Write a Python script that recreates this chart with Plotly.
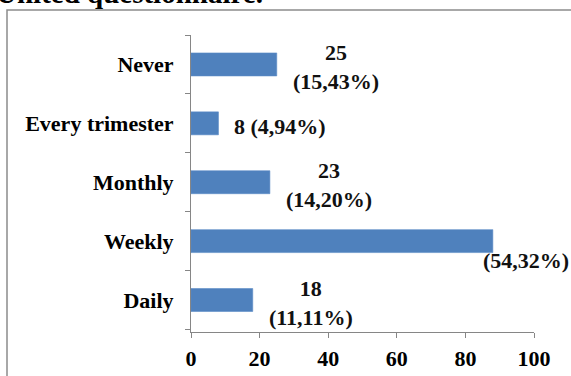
import plotly.graph_objects as go

# Frequency categories (bottom to top) and respondent counts
categories = ["Daily", "Weekly", "Monthly", "Every trimester", "Never"]
counts = [18, 88, 23, 8, 25]
label_lines = [["18", "(11,11%)"], ["(54,32%)"], ["23", "(14,20%)"],
               ["8 (4,94%)"], ["25", "(15,43%)"]]
x_ticks = [0, 20, 40, 60, 80, 100]

W, H = 571, 376
L, R, T, B = 191, 37, 35, 44
pw, ph = W - L - R, H - T - B

def px_x(p):
    return (p - L) / pw

def px_y(p):
    return 1 - (p - T) / ph

serif = "Liberation Serif"
axis_grey = "#868686"

fig = go.Figure(go.Bar(
    y=categories, x=counts, orientation="h",
    marker=dict(color="#4F81BD", line=dict(color="#5B8BC6", width=0.6)),
    hoverinfo="skip",
))

annotations = []
for cat, val, lines in zip(categories, counts, label_lines):
    if cat == "Weekly":
        # percentage sits just below the end of the long bar
        annotations.append(dict(x=val, y=cat, xref="x", yref="y", text="<b>" + lines[0] + "</b>",
                                xanchor="left", yanchor="middle", xshift=-12, yshift=-19,
                                showarrow=False, font=dict(family=serif, size=22, color="#111")))
    else:
        annotations.append(dict(x=val, y=cat, xref="x", yref="y",
                                text="<br>".join("<b>" + s + "</b>" for s in lines),
                                xanchor="left", yanchor="middle", xshift=14, yshift=-3,
                                align="center", showarrow=False,
                                font=dict(family=serif, size=22, color="#111")))

# caption line above the chart frame, clipped by the page edge
annotations.append(dict(x=px_x(265), y=px_y(11), xref="paper", yref="paper",
                        text="<b>United questionnaire.</b>", xanchor="right", yanchor="bottom",
                        showarrow=False, font=dict(family=serif, size=29, color="black")))

fig.update_layout(
    width=W, height=H,
    margin=dict(l=L, r=R, t=T, b=B, autoexpand=False),
    paper_bgcolor="white", plot_bgcolor="white",
    bargap=0.61,
    showlegend=False,
    annotations=annotations,
    shapes=[dict(type="rect", xref="paper", yref="paper",
                 x0=px_x(7), x1=px_x(W + 20), y0=px_y(H + 20), y1=px_y(10),
                 line=dict(color="#8c8c8c", width=1.5), fillcolor="rgba(0,0,0,0)",
                 layer="below")],
)

fig.update_xaxes(
    range=[0, 100], tickvals=x_ticks, ticktext=[str(v) for v in x_ticks],
    showgrid=False, zeroline=False, automargin=False,
    showline=True, linecolor=axis_grey, linewidth=1,
    ticks="outside", ticklen=5, tickcolor=axis_grey,
    tickfont=dict(family=serif, size=22, color="black", weight="bold"),
    ticklabelstandoff=2,
)
fig.update_yaxes(
    categoryorder="array", categoryarray=categories,
    showgrid=False, zeroline=False, automargin=False,
    showline=True, linecolor=axis_grey, linewidth=1,
    ticks="outside", ticklen=5, tickcolor=axis_grey, tickson="boundaries",
    tickfont=dict(family=serif, size=22, color="black", weight="bold"),
    ticklabelstandoff=12,
)

fig.write_html("out.html")
